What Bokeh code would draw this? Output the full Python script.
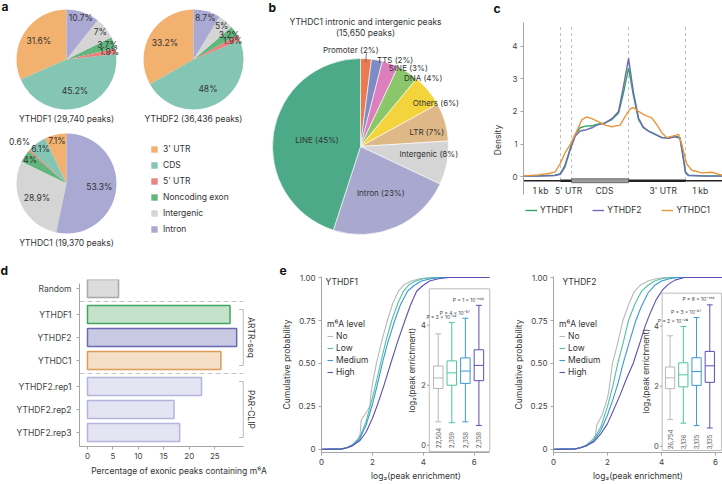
import numpy as np
from bokeh.plotting import figure
from bokeh.layouts import row, column
from bokeh.models import Range1d, ColumnDataSource, Legend, LegendItem, FixedTicker
from bokeh.core.properties import value
from bokeh.embed import file_html
from bokeh.resources import INLINE

FONT = "Inter"
TXT = "#333333"
AXC = "#A6A6A6"

# ---------------- data: panel a ----------------
region_labels = ["3' UTR", "CDS", "5' UTR", "Noncoding exon", "Intergenic", "Intron"]
region_colors = ["#F2B16E", "#84C5B4", "#E8837F", "#63B57E", "#D5D5D5", "#A9A9D4"]
pie_names = ["YTHDF1 (29,740 peaks)", "YTHDF2 (36,436 peaks)", "YTHDC1 (19,370 peaks)"]
ythdf1_pct = [31.6, 45.2, 1.9, 3.7, 7.0, 10.7]
ythdf2_pct = [33.2, 48.0, 1.9, 3.2, 5.0, 8.7]
ythdc1_pct = [7.1, 6.1, 0.6, 4.0, 28.9, 53.3]

# ---------------- data: panel b ----------------
b_title = ["YTHDC1 intronic and intergenic peaks", "(15,650 peaks)"]
b_labels = ["Promoter", "TTS", "SINE", "DNA", "Others", "LTR", "Intergenic", "Intron", "LINE"]
b_pct = [2, 2, 3, 4, 6, 7, 8, 23, 45]
b_colors = ["#E97A52", "#7D8DC4", "#DC7FBC", "#8CC66B", "#F3D43C", "#DEB887", "#D5D5D5", "#A9A9D0", "#4DAA88"]

# ---------------- data: panel c ----------------
gene_bounds = [0.0, 1.0, 1.3, 2.84, 4.38, 5.38]
gene_labels = ["1 kb", "5' UTR", "CDS", "3' UTR", "1 kb"]
gene_label_x = [0.46, 1.22, 2.19, 3.78, 4.78]
meta_x = [0.0, 0.4, 0.85, 1.0, 1.12, 1.27, 1.4, 1.53, 1.67, 1.85, 1.98, 2.2, 2.39, 2.57, 2.7,
          2.84, 2.97, 3.11, 3.24, 3.38, 3.56, 3.74, 3.92, 4.1, 4.23, 4.32, 4.38, 4.46, 4.91, 5.38]
ythdf1_density = [0.03, 0.03, 0.05, 0.1, 0.35, 0.9, 1.3, 1.5, 1.55, 1.56, 1.6, 1.65, 1.75, 1.95, 2.55,
                  3.33, 2.5, 1.75, 1.5, 1.4, 1.3, 1.2, 1.2, 1.25, 1.2, 0.6, 0.15, 0.05, 0.03, 0.03]
ythdf2_density = [0.02, 0.02, 0.04, 0.08, 0.3, 0.85, 1.25, 1.4, 1.43, 1.5, 1.58, 1.64, 1.78, 2.0, 2.75,
                  3.62, 2.6, 1.8, 1.52, 1.4, 1.3, 1.2, 1.18, 1.22, 1.18, 0.55, 0.12, 0.04, 0.02, 0.02]
meta_x_dc1 = [0.0, 0.4, 0.68, 0.86, 0.99, 1.13, 1.27, 1.4, 1.58, 1.71, 1.85, 2.03, 2.21, 2.39, 2.61,
              2.75, 2.88, 2.97, 3.11, 3.29, 3.47, 3.6, 3.74, 3.87, 4.05, 4.19, 4.28, 4.41, 4.55,
              4.82, 5.09, 5.27, 5.38]
ythdc1_density = [0.03, 0.06, 0.1, 0.15, 0.4, 0.75, 1.0, 1.3, 1.75, 1.83, 1.78, 1.68, 1.58, 1.53, 1.58,
                  1.85, 2.08, 2.12, 2.0, 1.88, 1.8, 1.6, 1.35, 1.2, 1.25, 1.3, 1.0, 0.4, 0.2, 0.12,
                  0.14, 0.08, 0.05]
c_names = ["YTHDF1", "YTHDF2", "YTHDC1"]
c_colors = ["#2EA55C", "#6B6BB6", "#E8963F"]

# ---------------- data: panel d ----------------
d_names = ["Random", "YTHDF1", "YTHDF2", "YTHDC1", "YTHDF2.rep1", "YTHDF2.rep2", "YTHDF2.rep3"]
d_groups = ["", "ARTR-seq", "ARTR-seq", "ARTR-seq", "PAR-CLIP", "PAR-CLIP", "PAR-CLIP"]
d_values = [6.1, 28.0, 29.3, 26.2, 22.4, 17.0, 18.1]
d_fill = ["#DCDCDC", "#C4E3CA", "#C9C9E3", "#F5DFC6", "#E4E4F3", "#E4E4F3", "#E4E4F3"]
d_line = ["#A8A8A8", "#3FA65F", "#6A6AB2", "#E09A58", "#B4B4DC", "#B4B4DC", "#B4B4DC"]
d_xticks = [0, 5, 10, 15, 20, 25]

# ---------------- data: panel e ----------------
m6a_levels = ["No", "Low", "Medium", "High"]
m6a_colors = ["#B8B8B8", "#4FC3A1", "#3A98D5", "#5D4FB2"]

e1_x = [
    [0, 0.8, 1.0, 1.2, 1.4, 1.52, 1.56, 1.7, 1.9, 1.95, 2.0, 2.16, 2.35, 2.59, 2.8, 3.02, 3.25, 3.54, 3.85, 4.2, 6.6],
    [0, 0.8, 1.0, 1.2, 1.5, 1.75, 2.0, 2.2, 2.35, 2.55, 2.76, 3.0, 3.22, 3.45, 3.7, 4.0, 4.45, 6.6],
    [0, 0.8, 1.0, 1.2, 1.5, 1.75, 2.0, 2.2, 2.39, 2.6, 2.88, 3.1, 3.38, 3.65, 3.93, 4.3, 4.7, 6.6],
    [0, 0.8, 1.0, 1.2, 1.5, 1.75, 2.0, 2.2, 2.45, 2.72, 3.0, 3.28, 3.5, 3.74, 4.0, 4.25, 4.6, 5.0, 6.6],
]
e1_cdf = [
    [0, 0.003, 0.01, 0.025, 0.05, 0.09, 0.17, 0.2, 0.25, 0.33, 0.38, 0.5, 0.62, 0.75, 0.85, 0.92, 0.96, 0.98, 0.993, 1.0, 1.0],
    [0, 0.003, 0.01, 0.025, 0.07, 0.16, 0.3, 0.42, 0.52, 0.64, 0.75, 0.85, 0.92, 0.96, 0.98, 0.993, 1.0, 1.0],
    [0, 0.003, 0.01, 0.022, 0.06, 0.14, 0.26, 0.38, 0.5, 0.62, 0.75, 0.84, 0.92, 0.955, 0.98, 0.993, 1.0, 1.0],
    [0, 0.003, 0.01, 0.02, 0.05, 0.1, 0.18, 0.26, 0.37, 0.5, 0.63, 0.75, 0.84, 0.92, 0.955, 0.98, 0.993, 1.0, 1.0],
]
e2_x = [
    [0, 0.8, 1.0, 1.2, 1.4, 1.55, 1.6, 1.8, 2.0, 2.05, 2.18, 2.35, 2.57, 2.8, 3.0, 3.25, 3.5, 3.8, 4.1, 6.26],
    [0, 0.8, 1.0, 1.2, 1.5, 1.75, 2.0, 2.2, 2.38, 2.58, 2.78, 3.0, 3.26, 3.5, 3.74, 4.0, 4.36, 6.26],
    [0, 0.8, 1.0, 1.2, 1.5, 1.75, 2.0, 2.2, 2.4, 2.58, 2.8, 3.05, 3.25, 3.5, 3.75, 4.0, 4.3, 4.6, 6.26],
    [0, 0.8, 1.0, 1.2, 1.5, 1.75, 2.0, 2.2, 2.45, 2.7, 2.95, 3.2, 3.4, 3.6, 3.8, 4.05, 4.25, 4.5, 4.84, 6.26],
]
e2_cdf = [
    [0, 0.003, 0.01, 0.025, 0.05, 0.08, 0.14, 0.2, 0.3, 0.34, 0.5, 0.6, 0.75, 0.85, 0.92, 0.96, 0.98, 0.993, 1.0, 1.0],
    [0, 0.003, 0.01, 0.022, 0.06, 0.13, 0.25, 0.37, 0.5, 0.62, 0.75, 0.84, 0.92, 0.955, 0.98, 0.993, 1.0, 1.0],
    [0, 0.003, 0.01, 0.02, 0.05, 0.11, 0.2, 0.29, 0.39, 0.5, 0.62, 0.75, 0.83, 0.91, 0.955, 0.98, 0.993, 1.0, 1.0],
    [0, 0.003, 0.01, 0.02, 0.045, 0.09, 0.15, 0.22, 0.31, 0.41, 0.5, 0.62, 0.72, 0.8, 0.87, 0.93, 0.96, 0.985, 1.0, 1.0],
]
# box stats: whisker low, q1, median, q3, whisker high
e1_box = [[0.78, 1.89, 2.24, 2.64, 3.71], [0.75, 2.0, 2.41, 2.81, 4.09],
          [0.78, 2.06, 2.47, 2.91, 4.23], [0.66, 2.15, 2.66, 3.18, 4.66]]
e2_box = [[0.89, 1.92, 2.28, 2.64, 3.68], [0.77, 1.98, 2.38, 2.78, 3.99],
          [0.69, 2.03, 2.49, 2.95, 4.29], [0.61, 2.13, 2.68, 3.16, 4.71]]
e1_counts = ["22,504", "2,359", "2,358", "2,358"]
e2_counts = ["26,754", "3,136", "3,135", "3,135"]
e1_p = [(2, -26), (4, -57), (1, -106)]
e2_p = [(2, -28), (3, -67), (6, -146)]

SUP = str.maketrans("-0123456789", "⁻⁰¹²³⁴⁵⁶⁷⁸⁹")


def ptext(m, e):
    return f"P = {m} × 10" + str(e).translate(SUP)


def txt(p, x, y, t, size=8.5, align="center", base="middle", color=TXT, angle=0.0, bold=False, **kw):
    x = list(np.atleast_1d(x).astype(float))
    y = list(np.atleast_1d(y).astype(float))
    t = [t] if isinstance(t, str) else list(t)
    return p.text(x=x, y=y, text=t, text_font=value(FONT), text_font_size=value(f"{size}px"),
                  text_align=align, text_baseline=base, text_color=color, angle=angle,
                  text_font_style="bold" if bold else "normal", **kw)


def canvas(w, h, x0, x1, y0, y1):
    p = figure(width=w, height=h, x_range=Range1d(x0, x1), y_range=Range1d(-y1, -y0),
               output_backend="svg", toolbar_location=None, x_axis_location=None,
               y_axis_location=None, min_border=0, frame_align=False)
    p.outline_line_color = None
    p.xgrid.visible = False
    p.ygrid.visible = False
    return p


def style_axis(ax, size=8):
    ax.axis_line_color = AXC
    ax.major_tick_line_color = AXC
    ax.minor_tick_line_color = None
    ax.major_tick_out = 3
    ax.major_tick_in = 0
    ax.major_label_text_font = FONT
    ax.major_label_text_font_size = f"{size}px"
    ax.major_label_text_color = "#444444"
    ax.axis_label_text_font = FONT
    ax.axis_label_text_font_size = "8.5px"
    ax.axis_label_text_font_style = "normal"
    ax.axis_label_text_color = TXT
    ax.major_label_standoff = 3
    ax.axis_label_standoff = 5


def panel_letter(p, t, offset):
    p.title.text = t
    p.title.text_font = FONT
    p.title.text_font_size = "12px"
    p.title.text_font_style = "bold"
    p.title.text_color = "#111111"
    p.title.align = "left"
    p.title.vertical_align = "top"
    p.title.offset = offset
    p.title.standoff = 0


# ================= panel a =================
pA = canvas(250, 262, 0, 250, 0, 262)
txt(pA, 1, -6, "a", size=12, align="left", bold=True, color="#111111")
A_CENTERS = [(66, 59), (193, 59), (66, 183)]
A_R = 50
first_r = None
for (cx, cy), pct, name in zip(A_CENTERS, [ythdf1_pct, ythdf2_pct, ythdc1_pct], pie_names):
    v = np.array(pct, float)
    f = v / v.sum()
    c1 = np.cumsum(f)
    c0 = c1 - f
    st = np.pi / 2 + 2 * np.pi * c0
    en = np.pi / 2 + 2 * np.pi * c1
    src = ColumnDataSource(dict(start=st, end=en, color=region_colors))
    r = pA.wedge(x=cx, y=-cy, radius=A_R, start_angle="start", end_angle="end",
                 fill_color="color", line_color=None, source=src)
    if first_r is None:
        first_r = r
    mid = (st + en) / 2
    rf = np.where(v > 25, 0.66, np.where(v < 1, 1.25, 0.87))
    txt(pA, cx + rf * A_R * np.cos(mid), -cy + rf * A_R * np.sin(mid), [f"{x:g}%" for x in v])
    txt(pA, cx, -(cy + A_R + 9), name)

legA = Legend(items=[LegendItem(label=lab, renderers=[first_r], index=i) for i, lab in enumerate(region_labels)],
              location=(150, 28), orientation="vertical", glyph_width=8, glyph_height=8,
              label_height=11, spacing=5, padding=0, margin=0, label_standoff=5,
              border_line_color=None, background_fill_alpha=0,
              label_text_font=FONT, label_text_font_size="8.5px", label_text_color=TXT)
pA.add_layout(legA)

# ================= panel b =================
pB = canvas(240, 262, 250, 490, 0, 262)
txt(pB, 268, -7, "b", size=12, align="left", bold=True, color="#111111")
B_CX, B_CY, B_R = 360, 146, 88
txt(pB, [365, 365], [-21, -32], b_title)
bv = np.array(b_pct, float)
bf = bv / bv.sum()
bc1 = np.cumsum(bf)
bc0 = bc1 - bf
bst = np.pi / 2 - 2 * np.pi * bc1
ben = np.pi / 2 - 2 * np.pi * bc0
srcB = ColumnDataSource(dict(start=bst, end=ben, color=b_colors))
pB.wedge(x=B_CX, y=-B_CY, radius=B_R, start_angle="start", end_angle="end",
         fill_color="color", line_color="white", line_width=0.6, source=srcB)
bmid = (bst + ben) / 2
b_label_r = [1.1, 1.0, 0.95, 0.92, 0.77, 0.58, 0.45, 0.58, 0.5]
b_label_align = ["right", "left", "left", "left", "left", "left", "left", "center", "center"]
for i, lab in enumerate(b_labels):
    lx = B_CX + b_label_r[i] * B_R * np.cos(bmid[i])
    ly = -B_CY + b_label_r[i] * B_R * np.sin(bmid[i])
    if i == 0:
        lx += 12
    txt(pB, lx, ly, f"{lab} ({b_pct[i]}%)", size=8, align=b_label_align[i])
pB.segment(x0=B_CX + 0.96 * B_R * np.cos(bmid[0]), y0=-B_CY + 0.96 * B_R * np.sin(bmid[0]),
           x1=B_CX + 1.06 * B_R * np.cos(bmid[0]), y1=-B_CY + 1.06 * B_R * np.sin(bmid[0]),
           line_color="#555555", line_width=0.8)

# ================= panel c =================
pC = figure(width=232, height=262, x_range=Range1d(0, 5.38), y_range=Range1d(-2.62, 4.872),
            x_axis_location=None, y_axis_location="left", output_backend="svg",
            toolbar_location=None, min_border_left=33, min_border_right=0,
            min_border_top=13, min_border_bottom=0, title="c", frame_align=False)
pC.outline_line_color = None
pC.grid.visible = False
panel_letter(pC, "c", -30)
style_axis(pC.yaxis[0])
pC.yaxis.ticker = FixedTicker(ticks=[0, 1, 2, 3, 4])
pC.yaxis.bounds = (-0.54, 4.72)
pC.yaxis.axis_label = "Density"
pC.yaxis.axis_label_standoff = 6
pC.segment(x0=gene_bounds[1:5], y0=-0.1, x1=gene_bounds[1:5], y1=4.63,
           line_color="#BDBDBD", line_dash="3 3", line_width=1)
rc1 = pC.line(meta_x, ythdf1_density, line_color=c_colors[0], line_width=1.4)
rc2 = pC.line(meta_x, ythdf2_density, line_color=c_colors[1], line_width=1.4)
rc3 = pC.line(meta_x_dc1, ythdc1_density, line_color=c_colors[2], line_width=1.4)
pC.line([gene_bounds[0], gene_bounds[-1]], [-0.12, -0.12], line_color="#222222", line_width=1.6)
pC.quad(left=[gene_bounds[1], gene_bounds[3]], right=[gene_bounds[2], gene_bounds[4]],
        bottom=-0.16, top=-0.08, fill_color="#222222", line_color=None)
pC.quad(left=gene_bounds[2], right=gene_bounds[3], bottom=-0.18, top=-0.06,
        fill_color="#9C9C9C", line_color="#555555", line_width=0.8)
txt(pC, gene_label_x, [-0.42] * 5, gene_labels, size=8.5)
legC = Legend(items=[LegendItem(label=n, renderers=[r]) for n, r in zip(c_names, [rc1, rc2, rc3])],
              location=(2, 47), orientation="horizontal", glyph_width=12, glyph_height=10,
              label_height=10, spacing=20, padding=0, margin=0, label_standoff=3,
              border_line_color=None, background_fill_alpha=0,
              label_text_font=FONT, label_text_font_size="8.5px", label_text_color=TXT)
pC.add_layout(legC)

# ================= panel d =================
SLOT, GAP = 23, 3
pos = []
gi = 0
for i, g in enumerate(d_groups):
    if i > 0 and g != d_groups[i - 1]:
        gi += 1
    pos.append(SLOT * i + GAP * gi)
pD = figure(width=278, height=222, x_range=Range1d(-1.57, 37.52), y_range=Range1d(158, -9),
            output_backend="svg", toolbar_location=None, min_border_left=79, min_border_right=0,
            min_border_top=17, min_border_bottom=38, title="d", frame_align=False)
pD.outline_line_color = None
pD.grid.visible = False
panel_letter(pD, "d", -79)
style_axis(pD.xaxis[0])
style_axis(pD.yaxis[0], size=8.5)
pD.xaxis.ticker = FixedTicker(ticks=d_xticks)
pD.xaxis.bounds = (-1.57, 30.6)
pD.xaxis.axis_label = "Percentage of exonic peaks containing m⁶A"
pD.xaxis.axis_label_standoff = 4
pD.yaxis.ticker = FixedTicker(ticks=pos)
pD.yaxis.bounds = (-5, 158)
pD.yaxis.major_label_overrides = {p_: n for p_, n in zip(pos, d_names)}
pD.yaxis.major_label_standoff = 5
pD.hbar(y=pos, left=0, right=d_values, height=18, fill_color=d_fill, line_color=d_line, line_width=1.5)
BX = 30.6
for i in range(1, len(d_groups)):
    if d_groups[i] != d_groups[i - 1]:
        ym = (pos[i - 1] + pos[i]) / 2
        pD.segment(x0=-1.57, y0=ym, x1=BX, y1=ym, line_color="#C4C4C4", line_dash="5 3", line_width=1)
for g in ["ARTR-seq", "PAR-CLIP"]:
    ps = [p_ for p_, gg in zip(pos, d_groups) if gg == g]
    y0, y1 = ps[0] - 5, ps[-1] + 5
    pD.segment(x0=[BX, BX - 0.8, BX - 0.8], y0=[y0, y0, y1], x1=[BX, BX, BX], y1=[y1, y0, y1],
               line_color="#BBBBBB", line_width=1)
    txt(pD, BX + 1.5, (ps[0] + ps[-1]) / 2, g, size=8.5, angle=-np.pi / 2)


# ================= panel e =================
def cdf_panel(width, xr, xb, ir_x, ir_y, box, xs, ys, stats, counts, pvals, title, title_x, letter):
    p = figure(width=width, height=222, x_range=Range1d(0, xr), y_range=Range1d(-0.018, 1.006),
               output_backend="svg", toolbar_location=None, min_border_left=41,
               min_border_right=0, min_border_top=14, min_border_bottom=32,
               title=letter if letter else None, frame_align=False)
    p.outline_line_color = None
    p.grid.visible = False
    if letter:
        panel_letter(p, letter, -42)
    style_axis(p.xaxis[0])
    style_axis(p.yaxis[0])
    p.xaxis.ticker = FixedTicker(ticks=[0, 2, 4, 6])
    p.xaxis.bounds = (0, xb)
    p.xaxis.axis_label = "log₂(peak enrichment)"
    p.xaxis.axis_label_standoff = 3
    p.xaxis.major_label_standoff = 3
    p.yaxis.ticker = FixedTicker(ticks=[0, 0.25, 0.5, 0.75, 1.0])
    p.yaxis.major_label_overrides = {0: "0", 0.25: "0.25", 0.5: "0.50", 0.75: "0.75", 1.0: "1.00"}
    p.yaxis.bounds = (-0.018, 1.006)
    p.yaxis.axis_label = "Cumulative probability"
    p.yaxis.axis_label_standoff = 4
    txt(p, title_x, 1.006, title, size=8.5, align="left", base="top")
    rs = []
    for k in range(4):
        rs.append(p.line(xs[k], ys[k], line_color=m6a_colors[k], line_width=1.1))
    leg = Legend(items=[LegendItem(label=n, renderers=[r]) for n, r in zip(m6a_levels, rs)],
                 title="m⁶A level", location=(6, 75), orientation="vertical", glyph_width=6,
                 glyph_height=10, label_height=10, spacing=2, padding=0, margin=0,
                 label_standoff=3, title_standoff=2, border_line_color=None,
                 background_fill_alpha=0, label_text_font=FONT, label_text_font_size="8.5px",
                 label_text_color=TXT, title_text_font=FONT, title_text_font_size="8.5px",
                 title_text_font_style="normal", title_text_color=TXT)
    p.add_layout(leg)
    # inset box plot
    p.extra_x_ranges = {"ix": Range1d(*ir_x)}
    p.extra_y_ranges = {"iy": Range1d(*ir_y)}
    kw = dict(x_range_name="ix", y_range_name="iy")
    bl, br, bb, bt = box
    p.quad(left=bl, right=br, bottom=bb, top=bt, fill_color="white", line_color="#BDBDBD",
           line_width=1, **kw)
    p.segment(x0=bl - 0.17, y0=[0, 2, 4], x1=bl, y1=[0, 2, 4], line_color="#9A9A9A", **kw)
    txt(p, [bl - 0.25] * 3, [0, 2, 4], ["0", "2", "4"], size=7.5, align="right", color="#444444", **kw)
    txt(p, bl - 1.25, 2.5, "log₂(peak enrichment)", size=8, angle=np.pi / 2, **kw)
    st = np.array(stats)
    xi = np.arange(4)
    p.segment(x0=xi, y0=st[:, 0], x1=xi, y1=st[:, 1], line_color=m6a_colors, line_width=1, **kw)
    p.segment(x0=xi, y0=st[:, 3], x1=xi, y1=st[:, 4], line_color=m6a_colors, line_width=1, **kw)
    p.segment(x0=xi - 0.22, y0=st[:, 0], x1=xi + 0.22, y1=st[:, 0], line_color=m6a_colors, line_width=1, **kw)
    p.segment(x0=xi - 0.22, y0=st[:, 4], x1=xi + 0.22, y1=st[:, 4], line_color=m6a_colors, line_width=1, **kw)
    p.quad(left=xi - 0.35, right=xi + 0.35, bottom=st[:, 1], top=st[:, 3], fill_color="white",
           line_color=m6a_colors, line_width=1, **kw)
    p.segment(x0=xi - 0.35, y0=st[:, 2], x1=xi + 0.35, y1=st[:, 2], line_color=m6a_colors, line_width=1, **kw)
    txt(p, xi, [-0.1] * 4, counts, size=6, align="left", color="#555555", angle=np.pi / 2, **kw)
    txt(p, xi[1:] + 0.35, st[1:, 4] + 0.08, [ptext(m, e) for m, e in pvals], size=5,
        align="right", base="bottom", color="#444444", **kw)
    return p


pEL = cdf_panel(232, 7.43, 6.6, (-8.61, 5.33), (-0.241, 5.62), (-0.66, 3.80, -0.21, 5.21),
                e1_x, e1_cdf, e1_box, e1_counts, e1_p, "YTHDF1", 0.16, "e")
pER = cdf_panel(212, 6.26, 6.26, (-8.81, 3.96), (-0.207, 5.655), (-0.6, 3.88, -0.14, 5.10),
                e2_x, e2_cdf, e2_box, e2_counts, e2_p, "YTHDF2", 0.33, None)

layout = column(row(pA, pB, pC), row(pD, pEL, pER))
open("out.html", "w").write(file_html(layout, INLINE))
